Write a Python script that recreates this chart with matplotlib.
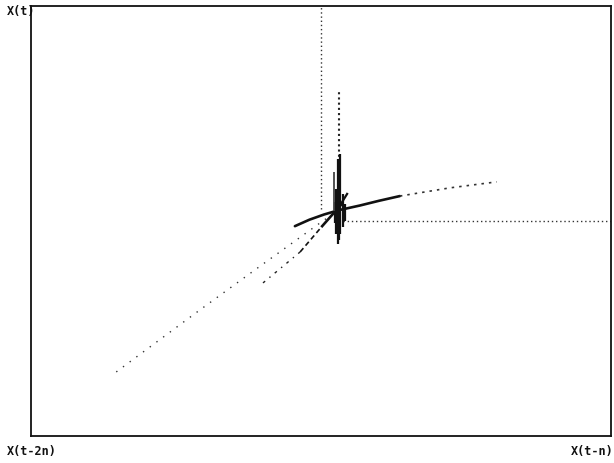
import matplotlib
matplotlib.use("Agg")
import matplotlib.pyplot as plt

# phase portrait, lagged coordinates (axis units 0..100)

# reference cross-hair
cross_x = 50.0
cross_y = 50.0
cross_vline_from = 52.8
cross_hline_from = 53.8

# long sparse dotted branch
far_x = [14.7, 29.1, 39.5, 50.3, 52.6]
far_y = [14.9, 29.3, 39.5, 50.0, 52.1]

# dash-dot branch (lower, middle, upper thick part)
dash_lo_x = [40.0, 46.4]
dash_lo_y = [35.6, 42.8]
dash_mid_x = [46.4, 50.2]
dash_mid_y = [42.8, 48.8]
dash_hi_x = [50.2, 53.6]
dash_hi_y = [48.8, 54.0]

# thick curved branch, then dotted tail
curve_x = [45.5, 48.0, 50.5, 53.0, 56.7, 60.0, 63.6]
curve_y = [48.8, 50.3, 51.5, 52.5, 53.6, 54.7, 55.8]
tail_x = [63.6, 72.2, 80.3]
tail_y = [55.8, 57.7, 59.1]

# vertical spikes near the fixed point
spike_dot_x = 53.1
spike_dot_top = 80.0
spike_dot_bottom = 63.7
spikes_x = [52.9, 53.3, 52.6, 53.8, 53.1, 52.4, 54.2]
spikes_top = [64.4, 65.6, 57.4, 56.3, 60.5, 54.5, 54.0]
spikes_bottom = [44.7, 47.0, 47.0, 48.6, 45.5, 49.5, 50.0]
thin_x = 52.2
thin_top = 61.4
thin_bottom = 52.3
stub_x = [52.9, 54.5]
stub_y = [52.8, 56.3]

fig = plt.figure(figsize=(6.14, 4.64), dpi=100)
ax = fig.add_axes([31 / 614, 27 / 464, 580 / 614, 430 / 464])
ax.set_xlim(0, 100)
ax.set_ylim(0, 100)
ax.set_xticks([])
ax.set_yticks([])
for s in ax.spines.values():
    s.set_linewidth(1.3)
    s.set_color("#111111")

ax.plot([cross_x, cross_x], [cross_vline_from, 100], color="#333333", lw=1.0, ls=(0, (1, 2)))
ax.plot([cross_hline_from, 100], [cross_y, cross_y], color="#333333", lw=1.0, ls=(0, (1, 2)))

ax.plot(far_x, far_y, color="#333333", lw=1.0, ls=(0, (1, 5)))

ax.plot(dash_lo_x, dash_lo_y, color="#222222", lw=1.0, ls=(0, (2, 4, 1, 4)))
ax.plot(dash_mid_x, dash_mid_y, color="#111111", lw=1.2, ls=(0, (3, 2)))
ax.plot(dash_hi_x, dash_hi_y, color="#111111", lw=1.9)

ax.plot(curve_x, curve_y, color="#111111", lw=1.9, solid_capstyle="round")
ax.plot(tail_x, tail_y, color="#333333", lw=1.2, ls=(0, (1.5, 3)))

ax.plot([spike_dot_x, spike_dot_x], [spike_dot_bottom, spike_dot_top],
        color="#222222", lw=1.5, ls=(0, (1, 1.5)))
ax.vlines(spikes_x, spikes_bottom, spikes_top, color="#111111", lw=1.6)
ax.vlines([thin_x], [thin_bottom], [thin_top], color="#444444", lw=1.3)
ax.plot(stub_x, stub_y, color="#111111", lw=1.6)

lab = dict(family="DejaVu Sans Mono", weight="bold", fontsize=8.5, color="#111111", va="center")
fig.text(7 / 614, 1 - 12 / 464, "X(t)", **lab)
fig.text(7 / 614, 1 - 452 / 464, "X(t-2n)", **lab)
fig.text(571 / 614, 1 - 452 / 464, "X(t-n)", **lab)

fig.savefig("out.png", dpi=100)
